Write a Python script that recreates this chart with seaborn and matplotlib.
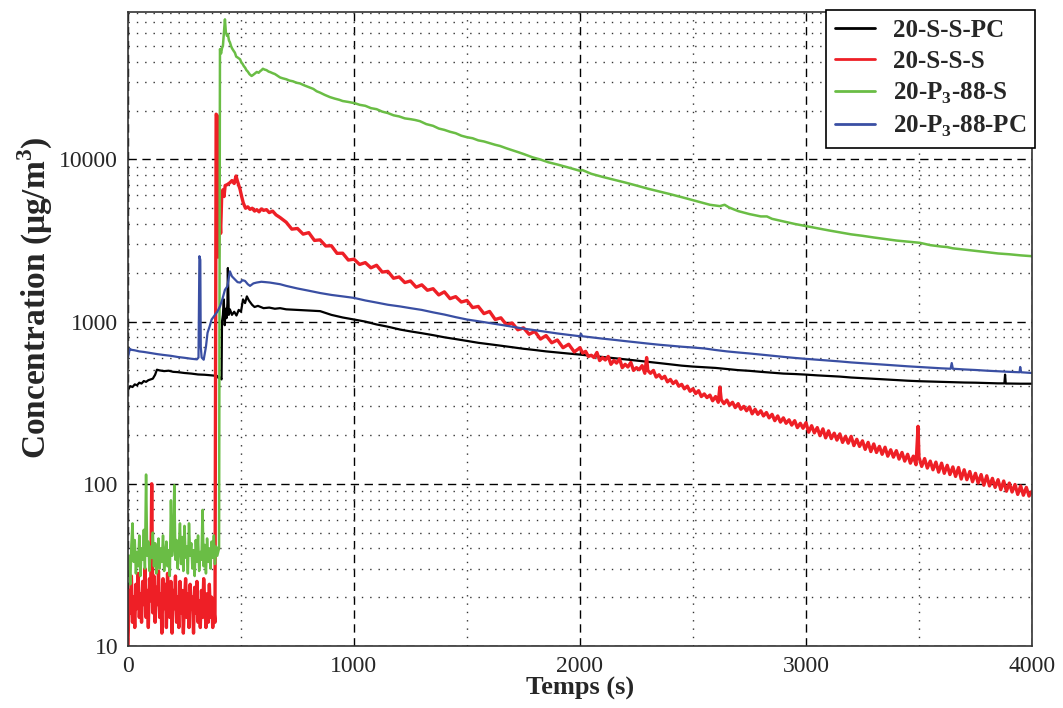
import numpy as np
import pandas as pd
import matplotlib
matplotlib.use('Agg')
import matplotlib.pyplot as plt
from matplotlib.ticker import LogLocator, MultipleLocator, FuncFormatter, NullFormatter
import seaborn as sns

# ---- data (time in s, concentration in ug/m3) ----
t_black = [0, 10, 20, 30, 40, 50, 60, 70, 80, 90, 100, 110, 120, 128, 140, 160, 180, 200, 220, 250, 280,
           310, 340, 370, 395, 400, 410, 414, 416, 420, 424, 428, 432, 436, 440, 442, 446, 451, 460, 470,
           480, 490, 500, 509, 518, 526, 535, 549, 560, 575, 600, 625, 650, 673, 700, 750, 800, 850, 900,
           950, 1000, 1050, 1100, 1150, 1204, 1250, 1300, 1350, 1400, 1450, 1500, 1550, 1600, 1650, 1700,
           1750, 1800, 1850, 1900, 1950, 2000, 2050, 2100, 2150, 2200, 2250, 2300, 2350, 2400, 2450, 2500,
           2550, 2600, 2650, 2700, 2750, 2800, 2850, 2900, 2950, 3000, 3050, 3100, 3150, 3200, 3250, 3300,
           3350, 3400, 3450, 3500, 3550, 3600, 3650, 3700, 3750, 3800, 3850, 3878, 3881, 3884, 3900, 3950, 4000]
c_black = [380, 400, 395, 410, 405, 420, 415, 430, 425, 435, 440, 445, 470, 505, 500, 495, 498, 490, 488, 482, 478,
           472, 470, 466, 462, 450, 450, 440, 1000, 1100, 1370, 950, 1200, 1050, 1300, 2140, 1100, 1190, 1100, 1150,
           1090, 1180, 1150, 1370, 1300, 1430, 1350, 1270, 1230, 1250, 1210, 1220, 1200, 1210, 1190, 1180, 1170, 1160, 1100,
           1060, 1030, 1000, 960, 930, 893, 870, 848, 825, 800, 780, 760, 740, 725, 710, 695,
           680, 668, 655, 645, 635, 626, 615, 605, 595, 585, 575, 565, 555, 545, 535, 528,
           523, 518, 510, 502, 497, 490, 484, 478, 475, 471, 466, 462, 458, 452, 448, 444,
           440, 436, 432, 429, 427, 425, 423, 421, 420, 418, 416, 416, 471, 415, 415, 414, 414]

t_red = list(range(0, 390, 5)) + [
    390, 396, 400, 405, 410, 415, 420, 425, 430, 440, 451, 460, 470, 478, 485, 496, 503, 510, 520, 530, 540,
    550, 560, 570, 580, 590, 600, 613, 625, 640, 655, 673, 690,
    700, 725, 750, 775, 800, 825, 850, 875, 900, 925, 950, 975, 1000, 1025, 1050, 1075, 1100, 1125, 1150,
    1175, 1200, 1225, 1250, 1275, 1300, 1325, 1350, 1375, 1400, 1425, 1450, 1475, 1500, 1525, 1550, 1575,
    1600, 1625, 1650, 1675, 1700, 1725, 1750, 1775, 1800, 1825, 1850, 1875, 1900, 1925, 1950, 1975,
    2000, 2012, 2025, 2037, 2050, 2062, 2075, 2087, 2100, 2112, 2125, 2137, 2150, 2162, 2175, 2187,
    2200, 2212, 2225, 2237, 2250, 2262, 2275, 2287, 2295, 2300, 2312, 2325, 2337, 2350, 2362, 2375, 2387,
    2400, 2412, 2425, 2437, 2450, 2462, 2475, 2487, 2500, 2512, 2525, 2537, 2550, 2562, 2575, 2587,
    2600, 2612, 2619, 2625, 2637, 2650, 2662, 2675, 2687, 2700, 2712, 2725, 2737, 2750, 2762, 2775, 2787,
    2800, 2812, 2825, 2837, 2850, 2862, 2875, 2887, 2900, 2912, 2925, 2937, 2950, 2962, 2975, 2987,
    3000, 3012, 3025, 3037, 3050, 3062, 3075, 3087, 3100, 3112, 3125, 3137, 3150, 3162, 3175, 3187,
    3200, 3212, 3225, 3237, 3250, 3262, 3275, 3287, 3300, 3312, 3325, 3337, 3350, 3362, 3375, 3387,
    3400, 3412, 3425, 3437, 3450, 3462, 3475, 3487, 3496, 3500, 3512, 3525, 3537, 3550, 3562, 3575, 3587,
    3600, 3612, 3625, 3637, 3650, 3662, 3675, 3687, 3700, 3712, 3725, 3737, 3750, 3762, 3775, 3787,
    3800, 3812, 3825, 3837, 3850, 3862, 3875, 3887, 3900, 3912, 3925, 3937, 3950, 3962, 3975, 3987, 4000]
c_red = [10, 22, 16, 27, 14, 20, 13, 24, 17, 28, 15, 21, 14, 25, 18, 30, 15, 22, 13, 26, 19, 100, 16, 27, 14,
         23, 18, 29, 15, 21, 12, 26, 17, 24, 13, 28, 19, 15, 25, 12, 22, 17, 27, 14, 20, 13, 25, 16, 22, 12,
         19, 26, 15, 21, 13, 24, 17, 20, 12, 23, 16, 25, 14, 19, 13, 22, 15, 26, 18, 13, 21, 14, 24, 15, 20,
         13, 17, 14] + [
    19000, 18500, 2500, 5000, 3500, 6200, 6500, 5900, 6900, 7000, 7180, 7400, 7100, 7900, 7300, 6530, 5900, 5400,
    5000, 5100, 4920, 5000, 4800, 4900, 4750, 4950, 4850, 4900, 4700, 4800, 4550, 4380, 4200,
    4100, 3715, 3750, 3460, 3535, 3165, 3190, 2925, 2935, 2635, 2640, 2395, 2425, 2250, 2310, 2145, 2225, 2020, 2040,
    1850, 1885, 1740, 1780, 1630, 1685, 1560, 1595, 1460, 1525, 1385, 1425, 1320, 1350, 1220, 1240, 1120,
    1155, 1030, 1055, 955, 980, 890, 915, 835, 870, 780, 820, 740, 770, 690, 725, 650,
    690, 640, 655, 610, 620, 600, 645, 575, 600, 580, 610, 545, 575, 555, 590, 520,
    545, 525, 560, 500, 520, 505, 535, 480, 600, 500, 480, 500, 455, 470, 445, 460, 425,
    440, 415, 430, 400, 410, 385, 400, 372, 385, 360, 375, 345, 358, 340, 352, 325,
    345, 318, 395, 330, 312, 328, 305, 318, 295, 312, 288, 300, 282, 298, 270, 288, 268,
    282, 262, 275, 255, 268, 245, 262, 240, 255, 236, 248, 230, 245, 222, 236, 220,
    238, 208, 228, 206, 222, 198, 218, 192, 212, 190, 205, 186, 203, 180, 196, 178,
    196, 172, 188, 170, 184, 163, 180, 158, 176, 156, 170, 152, 168, 148, 162, 146,
    160, 142, 156, 138, 152, 134, 148, 131, 226, 146, 128, 143, 125, 138, 122, 136, 118,
    134, 116, 130, 114, 127, 111, 126, 107, 122, 106, 119, 103, 116, 101, 114, 98,
    112, 97, 108, 95, 106, 92, 104, 90, 101, 89, 99, 86, 97, 85, 95, 84, 90]

t_green = list(range(0, 400, 5)) + [
    403, 407, 412, 416, 420, 425, 429, 433, 438, 442, 447, 451, 456, 460, 466, 473, 479, 485, 490, 496,
    502, 507, 513, 518, 524, 530, 538, 547, 554, 562, 570, 578, 585, 591, 597, 604, 613, 622, 630, 640,
    650, 661, 673, 685, 700, 715, 730, 745, 761, 780, 800, 820, 835, 850, 870, 894, 915, 935, 950, 975,
    1004, 1025, 1050, 1075, 1100, 1125, 1150, 1175, 1200, 1225, 1250, 1270, 1292, 1320, 1350, 1375, 1400,
    1425, 1450, 1475, 1500, 1525, 1550, 1575, 1600, 1625, 1646, 1675, 1700, 1725, 1750, 1790, 1823, 1860,
    1900, 1950, 2000, 2010, 2050, 2100, 2150, 2200, 2250, 2300, 2350, 2400, 2450, 2500, 2531, 2575, 2619,
    2640, 2660, 2700, 2750, 2800, 2827, 2850, 2900, 2950, 3004, 3050, 3100, 3150, 3200, 3250, 3300, 3350,
    3400, 3450, 3504, 3550, 3600, 3625, 3650, 3700, 3750, 3800, 3850, 3900, 3950, 4000]
c_green = [30, 36, 24, 42, 57, 33, 45, 28, 38, 31, 48, 27, 40, 34, 52, 30, 114, 36, 44, 29, 41, 35, 50, 31,
           43, 28, 38, 46, 30, 40, 33, 48, 29, 37, 44, 31, 39, 27, 79, 36, 42, 98, 34, 45, 30, 40, 57, 32,
           47, 29, 55, 35, 41, 28, 57, 36, 43, 30, 39, 27, 45, 33, 48, 29, 38, 34, 69, 31, 42, 28, 46, 33,
           40, 30, 44, 35, 48, 32, 41, 36] + [
    40, 47800, 45000, 48500, 50000, 62000, 73000, 61000, 57800, 59000, 54000, 52700, 50000, 48500, 47000,
    45500, 43000, 42500, 42000, 41400, 39500, 38800, 37500, 36800, 35500, 34800, 33500, 32700, 33200, 33900,
    34600, 34200, 35000, 35500, 36200, 35800, 35500, 34800, 34500, 34000, 33600, 32800, 32000, 31600, 31200,
    30600, 30300, 29700, 29400, 28600, 27900, 27200, 26300, 25800, 25000, 24200, 23700, 23300, 22900, 22600,
    22200, 21700, 21400, 20700, 20400, 19700, 19300, 18700, 18400, 17900, 17700, 17500, 17200, 16500, 16100,
    15500, 15200, 14800, 14500, 14000, 13700, 13500, 13100, 12900, 12600, 12300, 12100, 11700, 11400, 11100,
    10800, 10300, 10000, 9600, 9300, 8900, 8500, 8600, 8150, 7800, 7500, 7200, 6900, 6600, 6350, 6100, 5850,
    5600, 5450, 5250, 5150, 5250, 5050, 4800, 4600, 4450, 4450, 4300, 4150, 4000, 3870, 3760, 3650, 3550,
    3450, 3380, 3300, 3230, 3160, 3110, 3060, 2960, 2900, 2880, 2830, 2780, 2730, 2680, 2630, 2600, 2560, 2530]

t_blue = [0, 8, 15, 30, 50, 70, 100, 130, 160, 190, 220, 250, 280, 305, 312, 316, 320, 322, 326, 335, 345,
          352, 362, 370, 385, 395, 407, 418, 429, 440, 451, 460, 473, 485, 496, 507, 518, 530, 540, 555, 569,
          590, 610, 628, 650, 673, 700, 750, 800, 850, 900, 950, 1000, 1050, 1100, 1150, 1204, 1250, 1300,
          1350, 1400, 1450, 1500, 1550, 1600, 1650, 1700, 1750, 1800, 1850, 1900, 1950, 2000, 2005, 2010,
          2050, 2100, 2150, 2200, 2250, 2300, 2350, 2400, 2450, 2500, 2550, 2600, 2650, 2700, 2750, 2800,
          2850, 2900, 2950, 3000, 3050, 3100, 3150, 3200, 3250, 3300, 3350, 3400, 3450, 3500, 3550, 3600,
          3640, 3645, 3650, 3700, 3750, 3800, 3850, 3900, 3945, 3948, 3952, 4000]
c_blue = [600, 680, 670, 665, 655, 650, 640, 630, 622, 615, 605, 598, 590, 585, 600, 2530, 2400, 700, 600, 582, 700,
          853, 940, 1030, 1100, 1150, 1240, 1380, 1570, 1650, 2040, 1900, 1820, 1750, 1740, 1800, 1780, 1700, 1660,
          1720, 1740, 1760, 1750, 1740, 1720, 1700, 1660, 1600, 1550, 1500, 1460, 1430, 1400, 1350, 1310, 1270,
          1240, 1210, 1180, 1140, 1105, 1065, 1030, 1005, 980, 955, 930, 905, 885, 865, 845, 828, 812, 840, 812,
          800, 785, 772, 758, 745, 732, 720, 710, 700, 692, 683, 668, 655, 645, 636, 626, 616, 606, 597, 589,
          582, 575, 568, 560, 554, 548, 542, 536, 530, 525, 520, 515, 512, 555, 512, 507, 503, 498, 494, 490,
          487, 525, 487, 482]

series = ['20-S-S-PC', '20-S-S-S', r'20-P$_{\mathbf{3}}$-88-S', r'20-P$_{\mathbf{3}}$-88-PC']
colors = ['#000000', '#ee1f26', '#6abd45', '#3a4fa3']
widths = [1.6, 2.4, 1.8, 1.6]

sns.set_style('white')
plt.rcParams['font.family'] = ['Liberation Serif', 'DejaVu Serif']
plt.rcParams['mathtext.fontset'] = 'custom'
plt.rcParams['mathtext.rm'] = 'Liberation Serif'
plt.rcParams['mathtext.bf'] = 'Liberation Serif:bold'

fig = plt.figure(figsize=(10.63, 7.08), dpi=100)
ax = fig.add_axes([0.1204, 0.0876, 0.8504, 0.8954])

data = [(t_black, c_black), (t_red, c_red), (t_green, c_green), (t_blue, c_blue)]
for (t, c), name, col, w in zip(data, series, colors, widths):
    df = pd.DataFrame({'t': t, 'c': c})
    sns.lineplot(data=df, x='t', y='c', ax=ax, color=col, lw=w, label=name,
                 estimator=None, sort=False)

ax.set_yscale('log')
ax.set_xlim(0, 4000)
ax.set_ylim(10, 81000)

ax.xaxis.set_major_locator(MultipleLocator(1000))
ax.xaxis.set_minor_locator(MultipleLocator(500))
ax.yaxis.set_major_locator(LogLocator(base=10, numticks=10))
ax.yaxis.set_minor_locator(LogLocator(base=10, subs=np.arange(2, 10), numticks=20))
ax.yaxis.set_major_formatter(FuncFormatter(lambda v, p: '%d' % v))
ax.yaxis.set_minor_formatter(NullFormatter())

ax.grid(True, which='major', color='black', linestyle=(0, (6, 4)), linewidth=1.0)
ax.grid(True, which='minor', color='#333333', linestyle=(0, (1, 5)), linewidth=1.0)
ax.tick_params(which='both', direction='in', labelsize=17, length=4, width=0.8, pad=7)
ax.tick_params(which='minor', length=2)
for s in ax.spines.values():
    s.set_color('#333333')
    s.set_linewidth(1.2)

ax.set_xlabel('Temps (s)', fontsize=19, fontweight='bold', labelpad=0)
ax.set_ylabel(r'Concentration (μg/m$^{\mathbf{3}}$)', fontsize=24, fontweight='bold')
ax.yaxis.set_label_coords(-0.081, 0.55)

leg = ax.legend(loc='upper right', bbox_to_anchor=(1.003, 1.003), borderaxespad=0, frameon=True,
                fancybox=False, framealpha=1, edgecolor='black', prop={'size': 18, 'weight': 'bold'},
                handlelength=1.6, labelspacing=0.32, borderpad=0.35, handletextpad=0.7)
leg.get_frame().set_linewidth(1.2)
for line in leg.get_lines():
    line.set_linewidth(2)

fig.savefig('out.png', dpi=100)
